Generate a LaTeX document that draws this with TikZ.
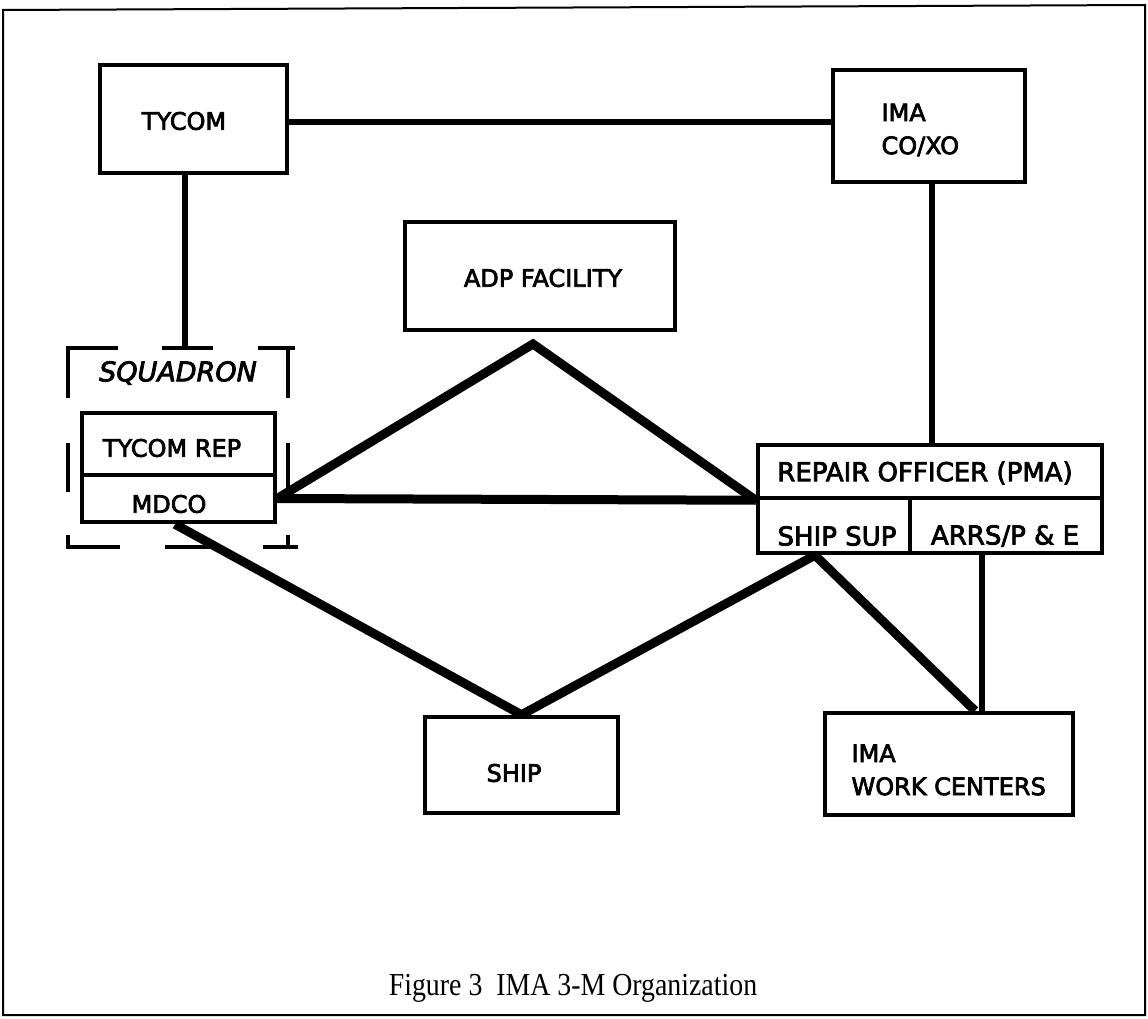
\documentclass[tikz,border=0pt]{standalone}
\usepackage{fontspec}
\setmainfont{Liberation Serif}
\newfontfamily\lettering[FakeBold=3]{DejaVu Sans}
\usetikzlibrary{calc}
\begin{document}
\begin{tikzpicture}[x=1pt,y=-1pt,
  lbl/.style={font=\lettering\fontsize{24}{33}\selectfont},
  biglbl/.style={font=\lettering\fontsize{26}{33}\selectfont},
  box/.style={draw,line width=4.5pt,inner sep=0pt},
  wire/.style={line width=5.5pt},
  heavy/.style={line width=9pt,line cap=butt,line join=miter},
  bracket/.style={line width=4pt},
  frame/.style={line width=2pt}]
\useasboundingbox (0,0) rectangle (1148,1019);
% outer frame
\draw[frame] (3,10) -- (1145,5) -- (1145,1015) -- (3,1015) -- cycle;

% top row
\node[box,minimum width=187,minimum height=108] (tycom) at (193.5,119) {};
\node[lbl] (tycomtxt) at (184,121) {TYCOM};
\node[box,minimum width=192,minimum height=112] (imaco) at (929,126) {};
\node[lbl,align=left,anchor=west] (imacotxt) at (878,130) {IMA\\CO/XO};

% ADP facility
\node[box,minimum width=270,minimum height=108] (adp) at (540,276) {};
\node[lbl] (adptxt) at (543,278) {ADP FACILITY};

% squadron representatives
\node[box,minimum width=193,minimum height=62] (tyrep) at (178.5,444) {};
\node[lbl] (tyreptxt) at (172,448) {TYCOM REP};
\node[box,minimum width=193,minimum height=47] (mdco) at (178.5,498.5) {};
\node[lbl] (mdcotxt) at (169,504) {MDCO};

% repair officer group
\node[box,minimum width=344,minimum height=53] (repair) at (930,471.5) {};
\node[biglbl] (repairtxt) at (925,473) {REPAIR OFFICER (PMA)};
\node[box,minimum width=152,minimum height=55] (shipsup) at (834,525.5) {};
\node[biglbl] (shipsuptxt) at (837,536) {SHIP SUP};
\node[box,minimum width=192,minimum height=55] (arrs) at (1006,525.5) {};
\node[biglbl] (arrstxt) at (1005,536) {ARRS/P \& E};

% bottom row
\node[box,minimum width=193,minimum height=96] (ship) at (521.5,765) {};
\node[lbl] (shiptxt) at (514,773) {SHIP};
\node[box,minimum width=248,minimum height=102] (wc) at (949,764) {};
\node[lbl,align=left,anchor=west] (wctxt) at (848,770) {IMA\\WORK CENTERS};

% squadron bracket
\node[font=\lettering\itshape\fontsize{27}{34}\selectfont] (sqd) at (178,373) {SQUADRON};
\coordinate (sqtop) at (185,348);
\draw[bracket] (68,398) -- (68,348) -- (118,348);
\draw[bracket] (162,348) -- (213,348);
\draw[bracket] (258,348) -- (295,348);
\draw[bracket] (288,348) -- (288,398);
\draw[bracket] (68,443) -- (68,492);
\draw[bracket] (288,443) -- (288,492);
\draw[bracket] (68,535) -- (68,547) -- (120,547);
\draw[bracket] (165,547) -- (218,547);
\draw[bracket] (263,547) -- (298,547);
\draw[bracket] (288,535) -- (288,547);

% connectors
\coordinate (apex) at (533,344);
\draw[wire] (tycom.east |- 0,122) -- (imaco.west |- 0,122);
\draw[wire] (tycom.south -| sqtop) -- (sqtop);
\draw[wire] (imaco.south -| 932,0) -- (repair.north -| 932,0);
\draw[heavy] (mdco.east) -- (apex) -- (repair.south west);
\draw[heavy] (mdco.east) -- (repair.south west);
\draw[heavy] (mdco.south -| 175,0) -- (ship.north);
\draw[heavy] (shipsup.south -| 815,0) -- (ship.north);
\draw[heavy] (shipsup.south -| 815,0) -- (wc.north -| 975,0);
\draw[wire] (arrs.south -| 982,0) -- (wc.north -| 982,0);

% caption
\node[font=\fontsize{32}{36}\selectfont,xscale=0.87,transform shape] (caption) at (573,988) {Figure 3\ \ IMA 3-M Organization};
\end{tikzpicture}
\end{document}
